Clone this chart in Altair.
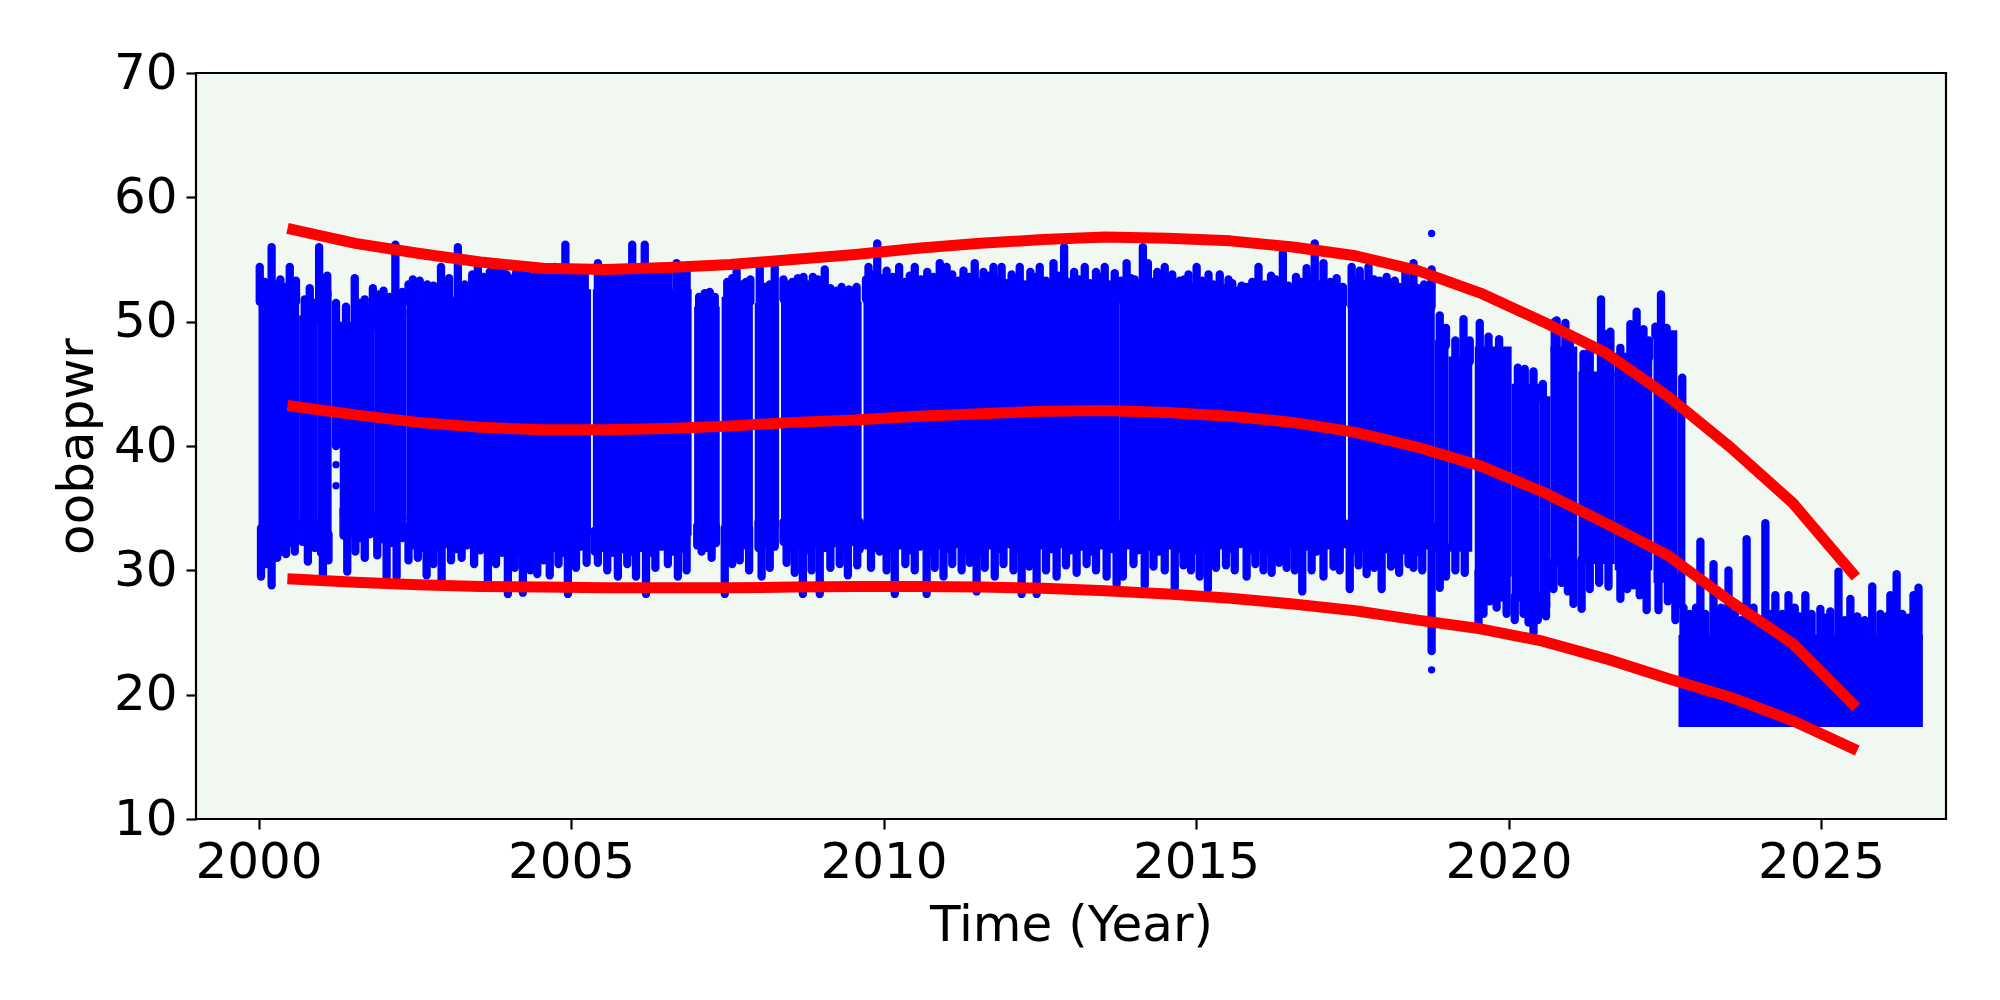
import altair as alt
import pandas as pd

# ---------------- red fitted curves ----------------
line_t = [2000.55, 2001.55, 2002.55, 2003.55, 2004.55, 2005.55, 2006.55, 2007.55,
          2008.55, 2009.55, 2010.55, 2011.55, 2012.55, 2013.55, 2014.55, 2015.55,
          2016.55, 2017.55, 2018.55, 2019.55, 2020.55, 2021.55, 2022.55, 2023.55,
          2024.55, 2025.50]
upper_v = [57.4, 56.3, 55.5, 54.8, 54.3, 54.2, 54.35, 54.6, 55.0, 55.4, 55.9, 56.3,
           56.6, 56.8, 56.7, 56.5, 56.0, 55.3, 54.1, 52.3, 50.0, 47.5, 44.0, 39.9,
           35.4, 29.8]
mid_v = [43.2, 42.5, 41.9, 41.5, 41.3, 41.3, 41.4, 41.6, 41.9, 42.1, 42.4, 42.6,
         42.8, 42.85, 42.7, 42.4, 41.9, 41.1, 39.9, 38.4, 36.3, 33.8, 31.2, 27.5,
         24.1, 19.3]
lower_v = [29.3, 29.05, 28.85, 28.7, 28.65, 28.6, 28.6, 28.6, 28.65, 28.7, 28.7, 28.65,
           28.55, 28.35, 28.1, 27.75, 27.3, 26.75, 26.0, 25.3, 24.3, 22.9, 21.3, 19.8,
           17.9, 15.7]

# ---------------- dense scatter: solid cores ----------------
blk_t0 = [2000.00, 2000.65, 2000.95, 2001.30, 2001.85, 2002.37, 2003.40, 2005.35, 2006.97,
          2007.41, 2007.94, 2008.36, 2009.00, 2009.68, 2013.78, 2017.43, 2018.82, 2019.04,
          2019.46, 2020.05, 2020.50, 2020.67, 2021.12, 2021.70, 2022.32, 2022.70, 2022.72]
blk_t1 = [2000.65, 2000.95, 2001.17, 2001.85, 2002.37, 2003.40, 2005.32, 2006.93, 2007.38,
          2007.91, 2008.33, 2009.00, 2009.65, 2013.78, 2017.40, 2018.82, 2019.04, 2019.42,
          2020.05, 2020.50, 2020.67, 2021.10, 2021.70, 2022.30, 2022.70, 2022.83, 2026.63]
blk_lo = [33.0, 33.5, 32.5, 34.5, 34.0, 33.2, 32.8, 32.8, 33.2, 33.0, 33.5, 33.5, 33.5,
          33.2, 33.4, 33.2, 31.5, 31.5, 29.5, 27.5, 27.0, 30.3, 30.5, 30.0, 29.0, 27.0, 17.4]
blk_hi = [52.0, 50.5, 52.5, 50.0, 51.0, 52.0, 52.6, 52.6, 51.2, 52.0, 51.5, 52.2, 51.6,
          52.2, 51.8, 51.6, 48.5, 47.2, 48.0, 45.0, 44.0, 48.0, 46.0, 47.5, 49.3, 43.5, 24.8]

# ---------------- tall upward spikes (time, top value) ----------------
up_t = [2000.02, 2000.21, 2000.35, 2000.50, 2000.82, 2000.97, 2001.10, 2001.54, 2001.70, 2001.83,
        2002.00, 2002.19, 2002.47, 2002.70, 2002.92, 2003.19, 2003.51, 2003.70, 2003.91, 2004.02,
        2004.20, 2004.42, 2004.74, 2004.91, 2005.14, 2005.43, 2005.59, 2005.80, 2005.98, 2006.18,
        2006.45, 2006.69, 2006.85, 2007.14, 2007.30, 2007.65, 2007.80, 2008.02, 2008.26, 2008.45,
        2008.63, 2008.87, 2009.06, 2009.33, 2009.57, 2009.76, 2009.90, 2010.05, 2010.25, 2010.50,
        2010.70, 2010.90, 2011.01, 2011.28, 2011.46, 2011.60, 2011.76, 2011.89, 2012.05, 2012.18,
        2012.35, 2012.50, 2012.72, 2012.89, 2013.05, 2013.22, 2013.40, 2013.54, 2013.70, 2013.89,
        2014.02, 2014.15, 2014.23, 2014.38, 2014.50, 2014.62, 2014.74, 2014.88, 2015.01, 2015.20,
        2015.38, 2015.52, 2015.65, 2015.81, 2016.00, 2016.20, 2016.39, 2016.60, 2016.77, 2016.90,
        2017.04, 2017.25, 2017.49, 2017.62, 2017.76, 2017.94, 2018.05, 2018.18, 2018.35, 2018.48,
        2018.65, 2018.77, 2018.90, 2019.00, 2019.15, 2019.28, 2019.38, 2019.54, 2019.68, 2019.85,
        2019.97, 2020.15, 2020.26, 2020.40, 2020.55, 2020.74, 2020.77, 2020.91, 2020.98, 2021.20,
        2021.30, 2021.48, 2021.55, 2021.63, 2021.79, 2021.95, 2022.05, 2022.16, 2022.25, 2022.35,
        2022.44, 2022.53, 2022.64, 2022.78,
        2022.80, 2022.90, 2023.00, 2023.07, 2023.15, 2023.28, 2023.40, 2023.52, 2023.62, 2023.72,
        2023.81, 2023.92, 2024.00, 2024.11, 2024.20, 2024.27, 2024.38, 2024.48, 2024.58, 2024.66,
        2024.75, 2024.85, 2024.99, 2025.08, 2025.15, 2025.28, 2025.38, 2025.47, 2025.58, 2025.70,
        2025.82, 2025.95, 2026.05, 2026.11, 2026.21, 2026.30, 2026.40, 2026.48, 2026.56]
up_v = [54.4, 56.0, 53.4, 54.4, 52.7, 56.0, 53.7, 53.5, 51.8, 52.7,
        52.5, 56.2, 53.4, 53.0, 54.4, 56.0, 54.4, 54.0, 54.7, 53.5,
        54.0, 53.7, 54.4, 56.2, 53.7, 54.7, 53.8, 54.2, 56.2, 56.2,
        53.7, 54.7, 54.0, 52.3, 52.0, 54.1, 53.2, 54.4, 54.4, 53.0,
        53.5, 53.6, 54.2, 52.8, 52.8, 54.4, 56.3, 54.1, 54.4, 54.4,
        54.0, 54.7, 54.4, 54.1, 54.7, 54.0, 54.4, 54.4, 53.8, 54.4,
        54.0, 54.4, 54.7, 56.0, 54.0, 54.4, 54.0, 54.4, 53.9, 54.7,
        53.4, 56.0, 54.7, 54.0, 54.4, 53.8, 53.3, 53.8, 54.4, 53.8,
        53.8, 53.4, 52.5, 52.8, 54.4, 53.7, 55.5, 53.6, 54.3, 56.3,
        54.7, 53.5, 54.4, 54.1, 54.4, 53.3, 53.6, 53.3, 54.0, 54.7,
        53.0, 54.2, 50.5, 49.5, 48.5, 50.2, 48.5, 49.9, 48.8, 48.6,
        48.0, 46.3, 46.2, 46.0, 45.0, 50.0, 50.1, 49.9, 49.0, 47.4,
        48.2, 51.8, 49.0, 49.2, 47.9, 49.8, 50.8, 49.4, 48.5, 49.6,
        52.2, 49.5, 46.5, 45.5,
        27.0, 26.5, 27.0, 32.3, 26.5, 30.5, 27.0, 30.0, 26.5, 26.0,
        32.5, 27.0, 26.0, 33.8, 26.5, 28.0, 26.5, 28.0, 27.0, 26.3,
        28.0, 26.5, 26.9, 26.2, 26.7, 29.9, 26.0, 27.7, 26.3, 26.0,
        28.7, 26.5, 26.3, 28.0, 29.7, 26.5, 26.2, 28.0, 28.6]

# ---------------- short fringe columns on the top edge (time, top value) ----------------
fringe_top = [
    (2000.10, 53.2), (2000.28, 53.0), (2000.43, 52.8), (2000.60, 53.3), (2000.74, 51.8),
    (2000.89, 51.5), (2001.04, 53.5), (2001.40, 51.2), (2001.62, 51.5), (2001.77, 51.0),
    (2001.92, 52.2), (2002.10, 52.0), (2002.30, 52.4), (2002.40, 53.0), (2002.58, 53.3),
    (2002.80, 52.9), (2003.05, 53.5), (2003.30, 53.0), (2003.42, 53.8), (2003.60, 53.6),
    (2003.80, 54.0), (2003.97, 53.8), (2004.12, 53.9), (2004.30, 54.1), (2004.52, 53.7),
    (2004.64, 54.0), (2004.83, 53.8), (2005.03, 54.0), (2005.22, 53.9), (2005.50, 53.8),
    (2005.68, 54.1), (2005.88, 53.7), (2006.08, 54.2), (2006.28, 53.9), (2006.37, 53.6),
    (2006.56, 54.0), (2006.77, 53.8), (2007.05, 52.0), (2007.22, 52.4), (2007.50, 53.2),
    (2007.58, 53.5), (2007.72, 53.0), (2007.87, 53.4), (2008.10, 52.8), (2008.18, 53.0),
    (2008.40, 53.4), (2008.54, 53.2), (2008.72, 53.6), (2008.80, 53.0), (2008.95, 53.4),
    (2009.15, 52.7), (2009.25, 52.5), (2009.45, 52.6), (2009.50, 52.4), (2009.72, 53.4),
    (2009.83, 53.8), (2009.97, 53.5), (2010.15, 53.6), (2010.35, 53.2), (2010.42, 53.7),
    (2010.60, 53.4), (2010.80, 53.6), (2010.96, 53.2), (2011.10, 53.8), (2011.20, 53.3),
    (2011.37, 53.6), (2011.53, 53.2), (2011.68, 53.7), (2011.83, 53.4), (2011.97, 53.1),
    (2012.12, 53.5), (2012.27, 53.0), (2012.43, 53.6), (2012.60, 53.3), (2012.80, 53.7),
    (2012.97, 53.2), (2013.13, 53.4), (2013.30, 53.1), (2013.47, 53.6), (2013.62, 53.0),
    (2013.80, 53.3), (2013.96, 53.5), (2014.08, 53.0), (2014.30, 53.2), (2014.44, 53.6),
    (2014.56, 52.9), (2014.68, 53.1), (2014.81, 53.4), (2014.95, 52.8), (2015.10, 53.3),
    (2015.28, 53.0), (2015.45, 52.7), (2015.58, 53.1), (2015.73, 52.9), (2015.90, 53.2),
    (2016.10, 53.0), (2016.28, 53.4), (2016.48, 52.9), (2016.68, 53.2), (2016.84, 53.5),
    (2016.97, 53.0), (2017.15, 53.2), (2017.35, 52.8), (2017.55, 53.3), (2017.69, 53.0),
    (2017.85, 53.4), (2018.00, 52.9), (2018.12, 53.1), (2018.25, 52.8), (2018.42, 53.2),
    (2018.56, 52.7), (2018.71, 52.9),
]

# ---------------- tall downward spikes (time, bottom value) ----------------
dn_t = [2000.04, 2000.12, 2000.21, 2000.30, 2000.44, 2000.58, 2000.79, 2000.90, 2001.03, 2001.12,
        2001.42, 2001.55, 2001.70, 2001.90, 2002.05, 2002.21, 2002.40, 2002.55, 2002.69, 2002.80,
        2002.93, 2003.08, 2003.25, 2003.45, 2003.67, 2003.80, 2003.99, 2004.10, 2004.23, 2004.35,
        2004.46, 2004.56, 2004.66, 2004.80, 2004.95, 2005.08, 2005.25, 2005.43, 2005.58, 2005.75,
        2005.90, 2006.04, 2006.20, 2006.35, 2006.55, 2006.71, 2006.85, 2007.09, 2007.25, 2007.46,
        2007.58, 2007.70, 2007.85, 2008.05, 2008.18, 2008.45, 2008.58, 2008.71, 2008.85, 2008.98,
        2009.15, 2009.30, 2009.43, 2009.58, 2009.80, 2009.94, 2010.05, 2010.18, 2010.35, 2010.50,
        2010.69, 2010.82, 2010.96, 2011.10, 2011.25, 2011.38, 2011.49, 2011.62, 2011.78, 2011.92,
        2012.08, 2012.21, 2012.33, 2012.45, 2012.60, 2012.77, 2012.92, 2013.09, 2013.25, 2013.40,
        2013.57, 2013.73, 2013.83, 2014.00, 2014.18, 2014.32, 2014.50, 2014.66, 2014.80, 2014.92,
        2015.06, 2015.19, 2015.32, 2015.48, 2015.62, 2015.81, 2015.95, 2016.08, 2016.21, 2016.33,
        2016.45, 2016.58, 2016.70, 2016.85, 2017.04, 2017.20, 2017.30, 2017.46, 2017.60, 2017.73,
        2017.85, 2017.97, 2018.12, 2018.25, 2018.40, 2018.48, 2018.62, 2018.77, 2018.90, 2019.00,
        2019.15, 2019.30, 2019.52, 2019.60, 2019.70, 2019.81, 2019.90, 2019.97, 2020.10, 2020.24,
        2020.32, 2020.40, 2020.47, 2020.60, 2020.72, 2020.85, 2020.95, 2021.04, 2021.17, 2021.30,
        2021.45, 2021.60, 2021.79, 2021.90, 2022.00, 2022.10, 2022.21, 2022.40, 2022.55, 2022.67]
dn_v = [29.5, 30.5, 28.8, 31.0, 31.3, 31.5, 30.7, 31.8, 29.5, 30.8,
        29.9, 31.5, 31.0, 31.2, 29.5, 29.5, 30.8, 31.0, 29.6, 30.5,
        29.0, 30.8, 31.0, 30.5, 29.0, 30.5, 28.1, 30.2, 28.2, 30.0,
        29.7, 30.8, 29.6, 30.5, 28.1, 30.2, 30.6, 30.6, 30.0, 29.5,
        30.5, 29.5, 28.1, 30.2, 30.5, 29.5, 30.0, 31.5, 31.0, 28.1,
        30.5, 30.8, 30.0, 29.5, 30.2, 30.6, 29.8, 28.1, 30.0, 28.1,
        30.2, 30.5, 29.6, 30.4, 30.2, 31.5, 30.0, 28.1, 30.5, 30.0,
        28.1, 30.2, 29.5, 30.5, 30.0, 30.6, 28.3, 30.2, 29.5, 30.5,
        30.0, 28.1, 30.3, 28.1, 30.0, 29.5, 30.4, 29.8, 30.5, 30.0,
        29.5, 28.9, 29.5, 30.5, 28.8, 30.3, 30.0, 28.6, 30.4, 30.0,
        29.5, 28.5, 30.2, 30.4, 30.0, 29.5, 30.5, 30.0, 29.8, 30.6,
        30.2, 30.0, 28.3, 30.0, 29.5, 30.3, 30.0, 28.5, 30.4, 29.7,
        30.2, 28.5, 30.3, 29.8, 30.5, 30.2, 30.0, 23.5, 28.6, 29.5,
        30.0, 29.8, 25.5, 26.5, 27.5, 27.0, 27.8, 26.5, 26.0, 26.5,
        25.8, 25.0, 26.0, 26.3, 28.5, 29.0, 28.3, 27.3, 26.9, 28.5,
        29.0, 28.7, 27.7, 28.5, 28.8, 28.0, 26.8, 26.8, 27.5, 26.0]

# ---------------- short fringe columns on the bottom edge (time, bottom value) ----------------
fringe_bot = [
    (2000.08, 31.8), (2000.26, 32.0), (2000.38, 31.5), (2000.52, 32.2), (2000.70, 32.3),
    (2000.85, 32.0), (2001.00, 31.4), (2001.08, 31.8), (2001.36, 32.8), (2001.48, 33.0),
    (2001.62, 32.6), (2001.78, 32.9), (2001.97, 32.5), (2002.12, 32.2), (2002.30, 32.6),
    (2002.47, 32.0), (2002.62, 31.8), (2002.75, 32.2), (2002.87, 31.9), (2003.00, 32.1),
    (2003.15, 31.7), (2003.33, 32.0), (2003.55, 31.6), (2003.73, 31.8), (2003.90, 31.4),
    (2004.05, 31.7), (2004.17, 31.5), (2004.29, 31.9), (2004.40, 31.3), (2004.52, 31.7),
    (2004.60, 31.5), (2004.73, 31.8), (2004.88, 31.4), (2005.02, 31.6), (2005.15, 31.9),
    (2005.38, 31.5), (2005.50, 31.8), (2005.66, 31.4), (2005.83, 31.7), (2005.97, 31.5),
    (2006.12, 31.8), (2006.28, 31.4), (2006.45, 31.9), (2006.63, 31.5), (2006.78, 31.7),
    (2007.02, 32.0), (2007.16, 31.8), (2007.32, 32.2), (2007.52, 31.9), (2007.64, 31.6),
    (2007.78, 32.0), (2008.00, 31.8), (2008.12, 32.2), (2008.26, 31.9), (2008.40, 32.3),
    (2008.52, 31.8), (2008.65, 32.0), (2008.78, 31.6), (2008.92, 32.1), (2009.08, 31.8),
    (2009.22, 32.2), (2009.37, 31.9), (2009.50, 32.3), (2009.62, 31.7), (2009.73, 32.0),
    (2009.87, 31.8), (2010.00, 32.1), (2010.12, 31.7), (2010.27, 32.0), (2010.43, 31.6),
    (2010.58, 31.9), (2010.76, 31.5), (2010.90, 32.0), (2011.04, 31.7), (2011.18, 32.1),
    (2011.32, 31.6), (2011.44, 31.9), (2011.56, 31.5), (2011.70, 32.0), (2011.85, 31.7),
    (2012.00, 32.1), (2012.15, 31.6), (2012.27, 31.9), (2012.39, 31.5), (2012.52, 32.0),
    (2012.68, 31.7), (2012.85, 32.1), (2013.00, 31.6), (2013.17, 31.9), (2013.33, 31.5),
    (2013.48, 32.0), (2013.65, 31.7), (2013.90, 32.0), (2014.08, 31.6), (2014.25, 31.9),
    (2014.41, 31.5), (2014.58, 32.0), (2014.73, 31.7), (2014.86, 32.1), (2015.00, 31.6),
    (2015.13, 31.9), (2015.26, 31.5), (2015.40, 32.0), (2015.55, 31.7), (2015.70, 32.1),
    (2015.88, 31.6), (2016.02, 31.9), (2016.15, 31.5), (2016.27, 32.0), (2016.39, 31.7),
    (2016.52, 32.1), (2016.64, 31.6), (2016.78, 31.9), (2016.93, 31.5), (2017.10, 32.0),
    (2017.25, 31.7), (2017.38, 32.1), (2017.53, 31.6), (2017.67, 31.9), (2017.79, 31.5),
    (2017.91, 32.0), (2018.05, 31.7), (2018.19, 32.1), (2018.33, 31.6), (2018.44, 31.9),
    (2018.55, 31.5), (2018.69, 32.0),
]

# sparse column of points in the 2001 gap
col_t = [2001.24]
col_lo = [40.0]
col_hi = [51.5]

# isolated outliers
dot_t = [2018.77, 2018.77, 2001.24, 2001.24]
dot_v = [57.1, 22.0, 38.5, 36.8]

# ---------------- build tables ----------------
def block_at(t):
    for i in range(len(blk_t0)):
        if blk_t0[i] - 0.02 <= t <= blk_t1[i] + 0.02:
            return i
    return min(range(len(blk_t0)),
               key=lambda i: min(abs(t - blk_t0[i]), abs(t - blk_t1[i])))

blocks = pd.DataFrame({"t": blk_t0, "t1": blk_t1, "lo": blk_lo, "hi": blk_hi})

spk_rows = []
for t, v in list(zip(up_t, up_v)) + fringe_top:
    i = len(blk_t0) - 1 if t >= 2022.79 else block_at(t)
    if v > blk_hi[i]:
        spk_rows.append({"t": t, "lo": blk_hi[i] - 0.4, "hi": v})
for t, v in list(zip(dn_t, dn_v)) + fringe_bot:
    i = block_at(t)
    if v < blk_lo[i]:
        spk_rows.append({"t": t, "lo": v, "hi": blk_lo[i] + 0.4})
for t, a, b in zip(col_t, col_lo, col_hi):
    spk_rows.append({"t": t, "lo": a, "hi": b})
spikes = pd.DataFrame(spk_rows)

dots = pd.DataFrame({"t": dot_t, "v": dot_v})

lines = pd.DataFrame(
    [{"t": t, "v": v, "series": "upper"} for t, v in zip(line_t, upper_v)]
    + [{"t": t, "v": v, "series": "mid"} for t, v in zip(line_t, mid_v)]
    + [{"t": t, "v": v, "series": "lower"} for t, v in zip(line_t, lower_v)]
)

# ---------------- encodings ----------------
FONT = "DejaVu Sans"
xscale = alt.Scale(domain=[1999.0, 2027.0], nice=False, zero=False)
yscale = alt.Scale(domain=[10, 70], nice=False, zero=False)
xaxis = alt.Axis(values=[2000, 2005, 2010, 2015, 2020, 2025], format="d", title="Time (Year)",
                 labelPadding=8, labelFlush=False, titleBaseline="alphabetic", titleY=121,
                 titleAlign="center")
yaxis = alt.Axis(values=[10, 20, 30, 40, 50, 60, 70], title="oobapwr", labelPadding=9,
                 labelFlush=False, titleAngle=270, titleBaseline="alphabetic", titleX=-104,
                 titleY=373, titleAlign="center")

BLUE = "#0000ff"

rects = alt.Chart(blocks).mark_rect(color=BLUE, clip=True).encode(
    x=alt.X("t:Q", scale=xscale, axis=xaxis),
    x2="t1:Q",
    y=alt.Y("lo:Q", scale=yscale, axis=yaxis),
    y2="hi:Q",
)

rules = alt.Chart(spikes).mark_rule(color=BLUE, strokeWidth=8.3, strokeCap="round", clip=True).encode(
    x=alt.X("t:Q", scale=xscale, axis=xaxis),
    y=alt.Y("lo:Q", scale=yscale, axis=yaxis),
    y2="hi:Q",
)

points = alt.Chart(dots).mark_circle(color=BLUE, size=54, opacity=1, clip=True).encode(
    x=alt.X("t:Q", scale=xscale, axis=xaxis),
    y=alt.Y("v:Q", scale=yscale, axis=yaxis),
)

curves = alt.Chart(lines).mark_line(color="#ff0000", strokeWidth=11, strokeCap="square",
                                    strokeJoin="round", clip=True).encode(
    x=alt.X("t:Q", scale=xscale, axis=xaxis),
    y=alt.Y("v:Q", scale=yscale, axis=yaxis),
    detail="series:N",
    order="t:Q",
)

chart = alt.layer(rects, rules, points, curves).properties(
    width=1750,
    height=746,
    padding={"left": 188, "top": 65, "right": 46, "bottom": 173},
    autosize=alt.AutoSizeParams(type="none"),
    background="white",
).configure_view(
    fill="#f1f8f1", stroke="black", strokeWidth=2.2
).configure_axis(
    domain=False, grid=False, ticks=True, tickColor="black", tickWidth=2.2, tickSize=10,
    labelFont=FONT, labelFontSize=50, labelColor="black",
    titleFont=FONT, titleFontSize=50, titleColor="black", titleFontWeight="normal",
)

chart.save("out.html", embed_options={"renderer": "svg", "actions": False})
